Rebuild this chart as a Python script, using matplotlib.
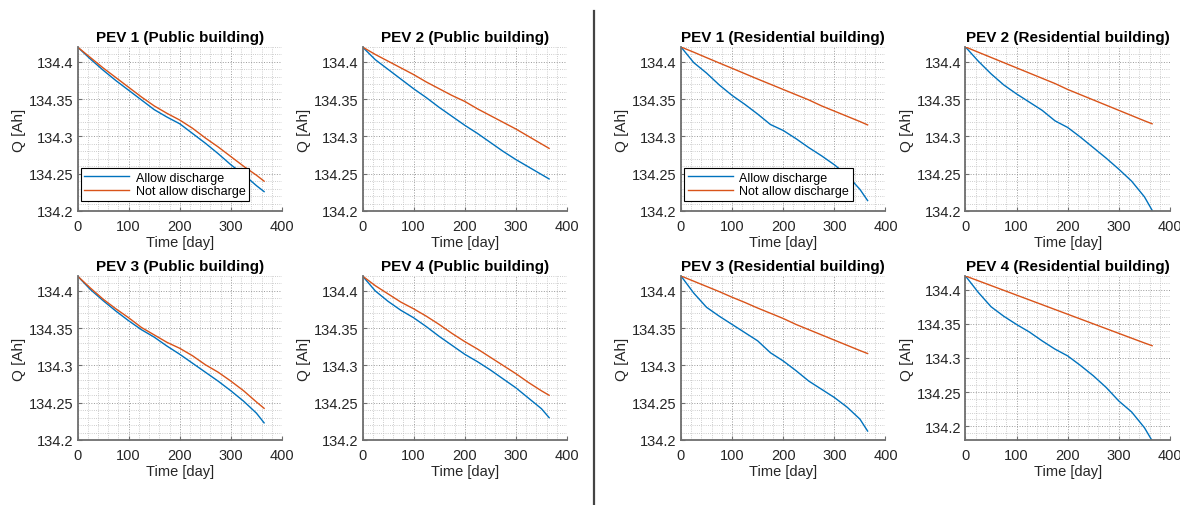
import matplotlib.pyplot as plt
import numpy as np
from matplotlib.lines import Line2D
from matplotlib.ticker import MultipleLocator, FuncFormatter

plt.rcParams['font.family'] = ['Liberation Sans', 'DejaVu Sans']

days = [0, 25, 50, 75, 100, 125, 150, 175, 200, 225, 250, 275, 300, 325, 350, 365]

# public building
pub1_allow = [134.42, 134.404, 134.389, 134.375, 134.362, 134.349, 134.336, 134.326, 134.317,
              134.304, 134.291, 134.277, 134.262, 134.249, 134.234, 134.226]
pub1_noallow = [134.42, 134.406, 134.392, 134.379, 134.366, 134.353, 134.341, 134.331, 134.322,
                134.311, 134.298, 134.286, 134.273, 134.260, 134.248, 134.240]
pub2_allow = [134.42, 134.403, 134.390, 134.377, 134.364, 134.352, 134.339, 134.327, 134.315,
              134.304, 134.292, 134.280, 134.269, 134.259, 134.249, 134.243]
pub2_noallow = [134.42, 134.410, 134.401, 134.392, 134.383, 134.373, 134.364, 134.355, 134.347,
                134.337, 134.328, 134.319, 134.310, 134.300, 134.290, 134.284]
pub3_allow = [134.42, 134.402, 134.387, 134.373, 134.360, 134.348, 134.338, 134.326, 134.315,
              134.303, 134.291, 134.279, 134.266, 134.252, 134.236, 134.223]
pub3_noallow = [134.42, 134.404, 134.389, 134.376, 134.364, 134.351, 134.341, 134.331, 134.323,
                134.313, 134.301, 134.291, 134.279, 134.266, 134.251, 134.2425]
pub4_allow = [134.42, 134.400, 134.386, 134.374, 134.364, 134.352, 134.339, 134.327, 134.315,
              134.305, 134.294, 134.282, 134.270, 134.256, 134.242, 134.230]
pub4_noallow = [134.42, 134.407, 134.396, 134.385, 134.376, 134.366, 134.355, 134.343, 134.332,
                134.322, 134.311, 134.300, 134.289, 134.277, 134.266, 134.260]

# residential building
res1_allow = [134.42, 134.399, 134.385, 134.369, 134.355, 134.343, 134.330, 134.316, 134.308,
              134.297, 134.285, 134.274, 134.262, 134.248, 134.229, 134.214]
res1_noallow = [134.42, 134.413, 134.4057, 134.3985, 134.3914, 134.3842, 134.377, 134.370, 134.363,
                134.356, 134.349, 134.341, 134.334, 134.327, 134.320, 134.3155]
res2_allow = [134.42, 134.401, 134.384, 134.369, 134.357, 134.346, 134.335, 134.321, 134.312,
              134.299, 134.285, 134.271, 134.256, 134.240, 134.219, 134.201]
res2_noallow = [134.42, 134.413, 134.406, 134.399, 134.392, 134.385, 134.378, 134.371, 134.363,
                134.356, 134.349, 134.342, 134.335, 134.328, 134.321, 134.317]
res3_allow = [134.42, 134.397, 134.378, 134.366, 134.355, 134.344, 134.333, 134.317, 134.306,
              134.293, 134.279, 134.268, 134.257, 134.244, 134.228, 134.212]
res3_noallow = [134.42, 134.413, 134.406, 134.399, 134.3915, 134.3845, 134.377, 134.370, 134.363,
                134.355, 134.348, 134.341, 134.334, 134.327, 134.320, 134.316]
res4_allow = [134.42, 134.396, 134.375, 134.361, 134.349, 134.338, 134.325, 134.313, 134.303,
              134.289, 134.274, 134.257, 134.237, 134.221, 134.198, 134.179]
res4_noallow = [134.42, 134.413, 134.406, 134.399, 134.392, 134.385, 134.378, 134.371, 134.364,
                134.357, 134.350, 134.343, 134.336, 134.329, 134.322, 134.318]

titles = ["PEV 1 (Public building)", "PEV 2 (Public building)",
          "PEV 1 (Residential building)", "PEV 2 (Residential building)",
          "PEV 3 (Public building)", "PEV 4 (Public building)",
          "PEV 3 (Residential building)", "PEV 4 (Residential building)"]
allow = [pub1_allow, pub2_allow, res1_allow, res2_allow, pub3_allow, pub4_allow, res3_allow, res4_allow]
noallow = [pub1_noallow, pub2_noallow, res1_noallow, res2_noallow,
           pub3_noallow, pub4_noallow, res3_noallow, res4_noallow]
ylims = [(134.2, 134.42)] * 7 + [(134.18, 134.42)]

blue = "#0072BD"
orange = "#D95319"
axcol = "#6e6e6e"
txtcol = "#262626"

fig = plt.figure(figsize=(11.8, 5.06), dpi=100)

lefts = [77.5, 362.5, 681, 965.5]
tops = [48, 277]
w, h = 204.5, 164

for i in range(8):
    row, col = divmod(i, 4)
    l = lefts[col] / 1180
    b = 1 - (tops[row] + h) / 506
    ax = fig.add_axes([l, b, w / 1180, h / 506])
    ax.plot(days, allow[i], color=blue, lw=1.0, label="Allow discharge")
    ax.plot(days, noallow[i], color=orange, lw=1.0, label="Not allow discharge")
    ax.set_xlim(0, 400)
    ax.set_ylim(*ylims[i])
    ax.set_xticks([0, 100, 200, 300, 400])
    ax.set_yticks([134.2, 134.25, 134.3, 134.35, 134.4])
    ax.xaxis.set_minor_locator(MultipleLocator(20))
    ax.yaxis.set_minor_locator(MultipleLocator(0.01))
    ax.yaxis.set_major_formatter(FuncFormatter(lambda v, p: f"{v:g}"))
    ax.grid(True, which="major", linestyle=":", color="#999999", lw=0.7)
    ax.grid(True, which="minor", linestyle=":", color="#bdbdbd", lw=0.6)
    ax.set_axisbelow(True)
    for s in ["top", "right"]:
        ax.spines[s].set_visible(False)
    for s in ["left", "bottom"]:
        ax.spines[s].set_color(axcol)
        ax.spines[s].set_linewidth(1.3)
    ax.tick_params(which="major", direction="in", length=3, color=axcol,
                   labelsize=10.5, labelcolor=txtcol)
    ax.tick_params(axis="x", which="major", pad=6)
    ax.tick_params(axis="y", which="major", pad=3)
    ax.tick_params(which="minor", length=0)
    ax.set_title(titles[i], fontsize=11, fontweight="bold", pad=4)
    ax.set_xlabel("Time [day]", fontsize=10.5, color=txtcol, labelpad=1)
    ax.set_ylabel("Q [Ah]", fontsize=11, color=txtcol, labelpad=2)
    if i in (0, 2):
        leg = ax.legend(loc="lower left", bbox_to_anchor=(0.015, 0.06), fontsize=9,
                        handlelength=3.6, fancybox=False, framealpha=1,
                        borderpad=0.3, labelspacing=0.15, handletextpad=0.5,
                        borderaxespad=0)
        leg.get_frame().set_edgecolor("black")
        leg.get_frame().set_linewidth(0.8)

fig.add_artist(Line2D([593.5 / 1180, 593.5 / 1180], [0, 1 - 12 / 506],
                      color="#444444", lw=1.6, transform=fig.transFigure))

fig.savefig("out.png", dpi=100)
